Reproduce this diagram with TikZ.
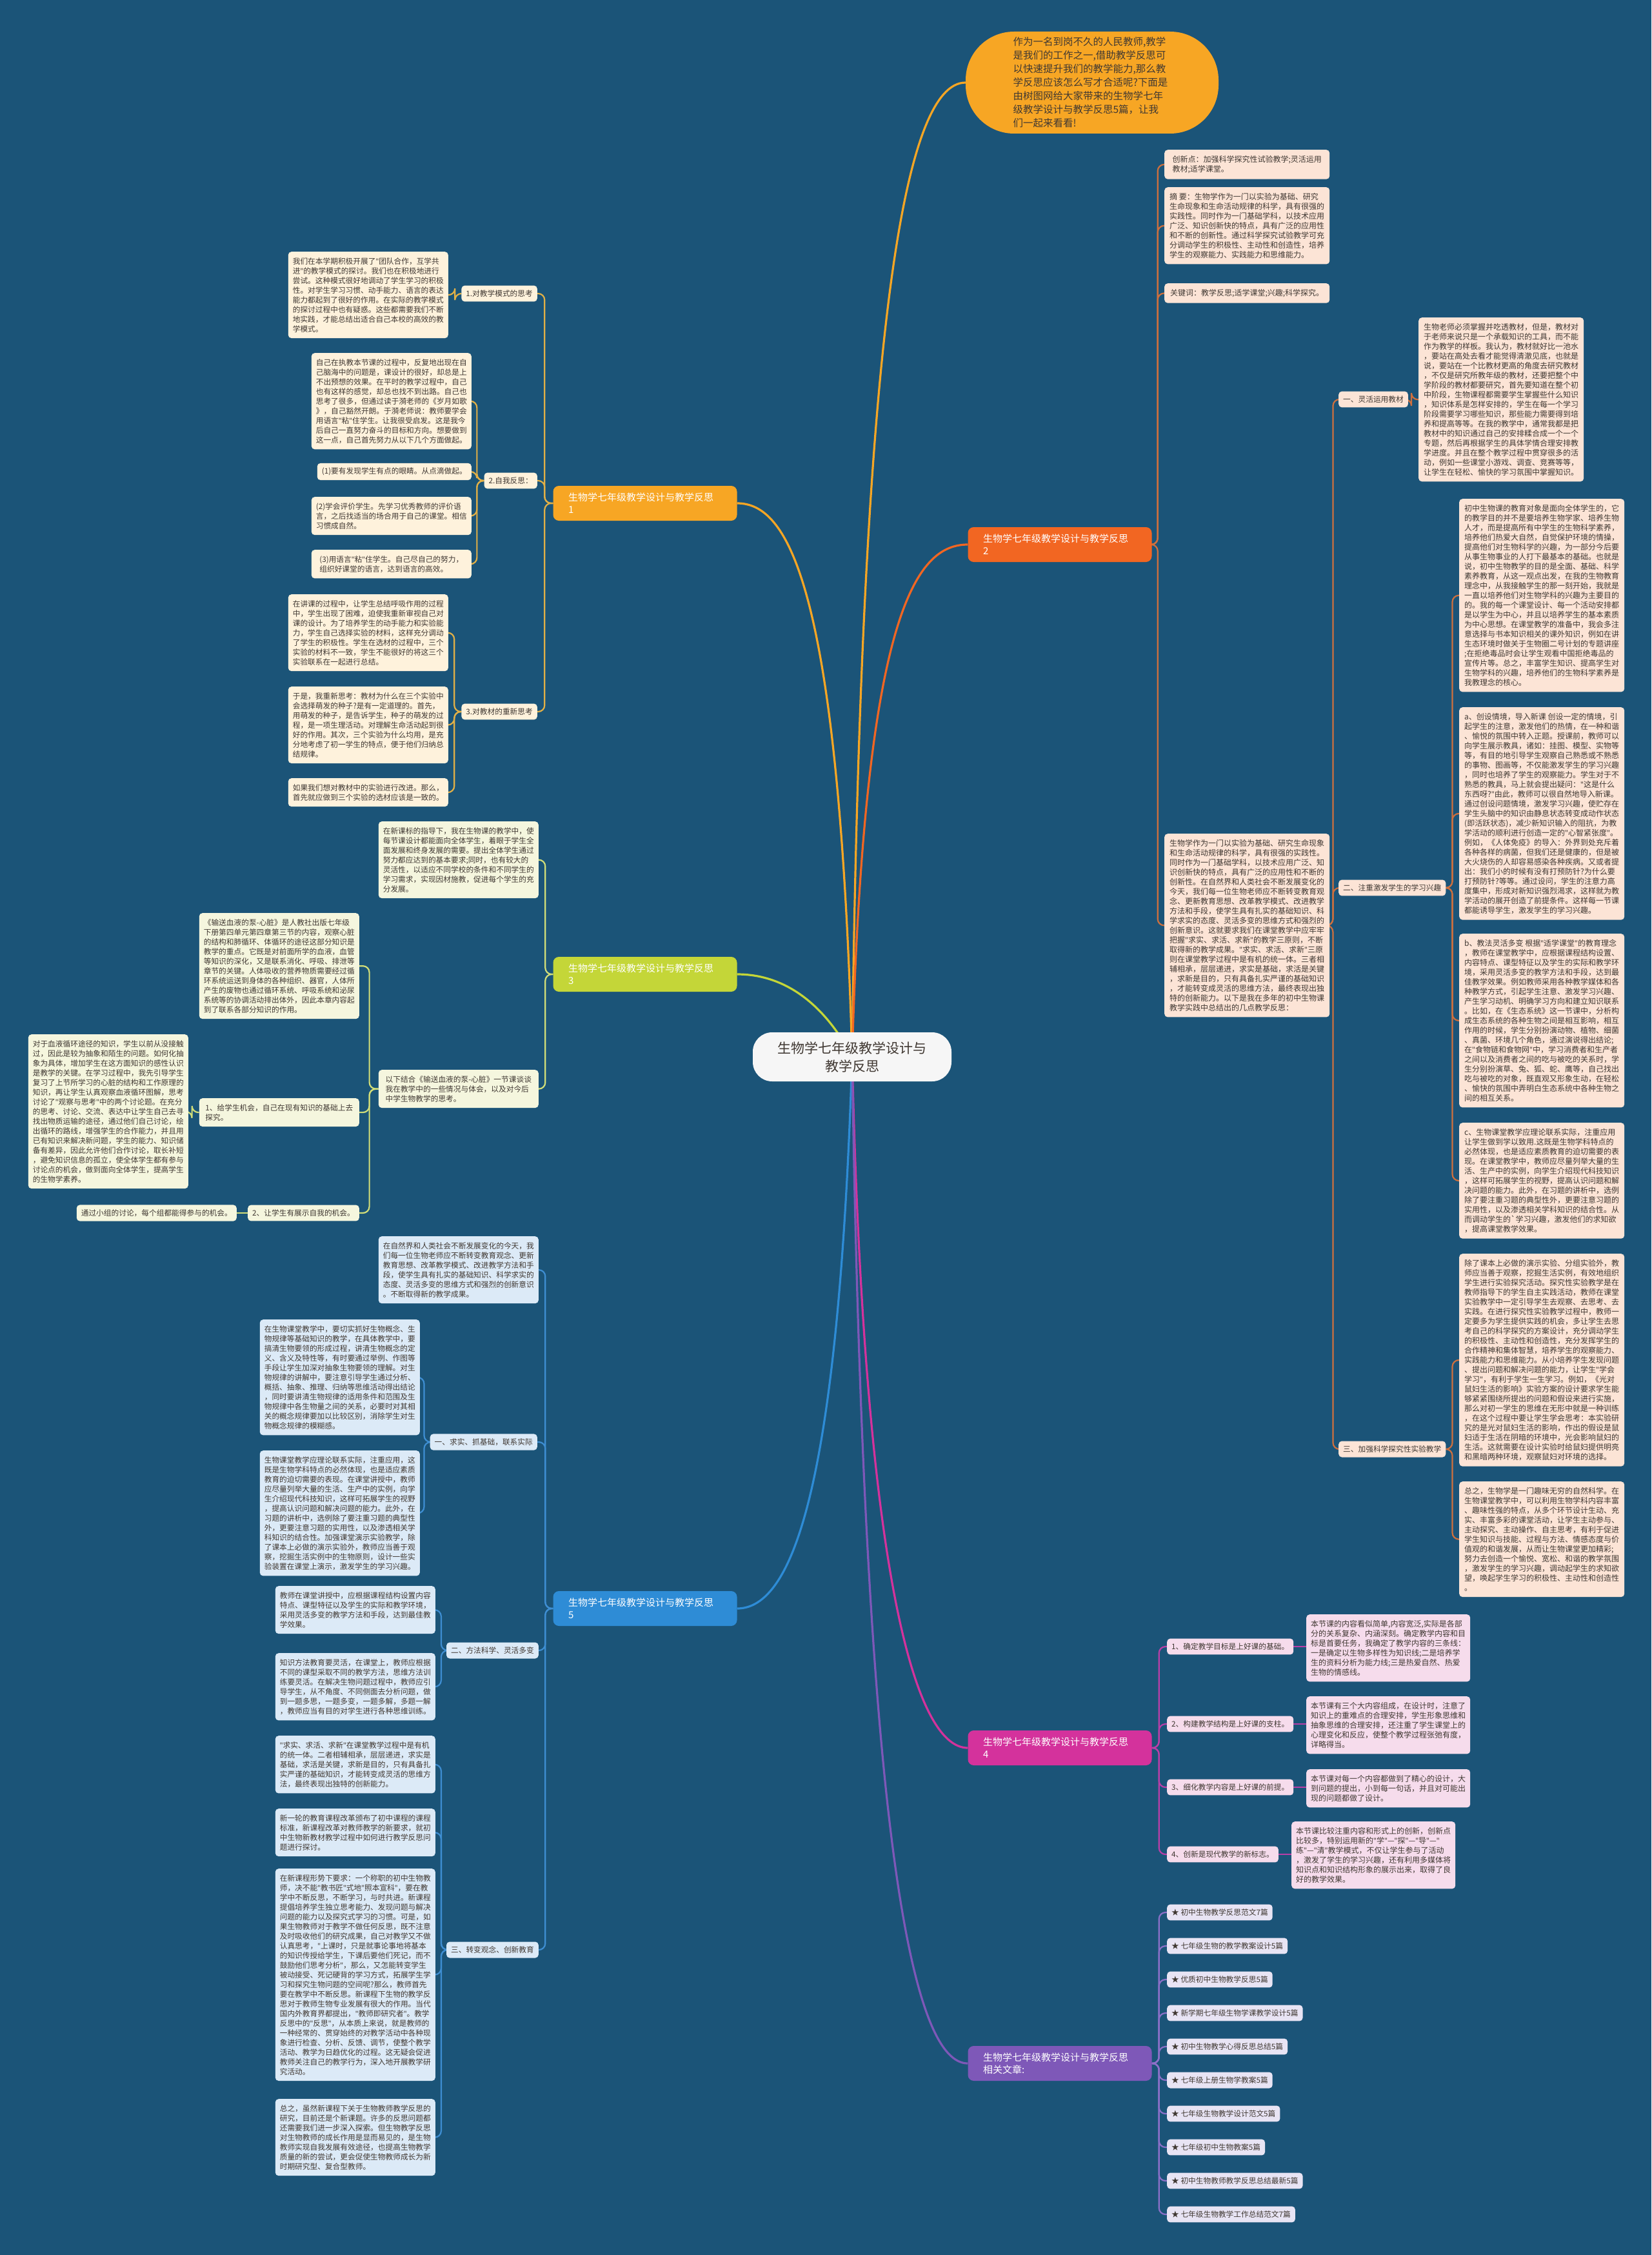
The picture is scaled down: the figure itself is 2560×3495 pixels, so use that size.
\documentclass[tikz,border=0pt]{standalone}
\usepackage{fontspec}
\setmainfont{Noto Sans CJK SC}
\newfontfamily\latinfont{Noto Sans}
\newcommand{\dq}{{\latinfont"}}
\usetikzlibrary{positioning}
\definecolor{bg}{RGB}{27,84,120}
\definecolor{ink}{RGB}{64,56,50}
\definecolor{ctrfill}{RGB}{246,246,246}
\definecolor{orgA}{RGB}{247,166,36}
\definecolor{lnA}{RGB}{226,176,70}
\definecolor{lfA}{RGB}{254,242,220}
\definecolor{orgB}{RGB}{242,102,34}
\definecolor{lnB}{RGB}{206,112,62}
\definecolor{lfB}{RGB}{252,228,214}
\definecolor{grnC}{RGB}{196,214,56}
\definecolor{lnC}{RGB}{210,222,120}
\definecolor{lfC}{RGB}{245,246,222}
\definecolor{magD}{RGB}{212,50,156}
\definecolor{lnD}{RGB}{186,62,168}
\definecolor{lfD}{RGB}{246,220,236}
\definecolor{bluE}{RGB}{46,140,214}
\definecolor{lnE}{RGB}{62,142,210}
\definecolor{lfE}{RGB}{220,234,247}
\definecolor{purF}{RGB}{126,88,184}
\definecolor{lnF}{RGB}{140,112,200}
\definecolor{lfF}{RGB}{232,228,244}
\pgfdeclarelayer{back}
\pgfdeclarelayer{links}
\pgfsetlayers{back,links,main}
\begin{document}
\begin{tikzpicture}[x=1pt,y=-1pt,
  leafL/.style={fill=#1,rounded corners=5pt,align=left,minimum width=248pt,inner xsep=7pt,inner ysep=9pt,font=\fontsize{11.7}{15}\selectfont,text=ink,anchor=north east},
  leafR/.style={fill=#1,rounded corners=5pt,align=left,minimum width=256pt,inner xsep=7pt,inner ysep=9pt,font=\fontsize{12}{15}\selectfont,text=ink,anchor=north west},
  tagL/.style={fill=#1,rounded corners=5pt,inner xsep=7pt,inner ysep=7pt,font=\fontsize{11.7}{15}\selectfont,text=ink,anchor=east},
  tagR/.style={fill=#1,rounded corners=5pt,inner xsep=7pt,inner ysep=7pt,font=\fontsize{11.7}{15}\selectfont,text=ink,anchor=west},
  branch/.style={fill=#1,rounded corners=9pt,text width=238pt,inner xsep=23.5pt,inner ysep=8pt,minimum height=54pt,align=left,font=\fontsize{15}{19}\selectfont,text=white},
  lnk/.style={draw=#1,line width=2.2pt,rounded corners=10pt},
  trunk/.style={draw=#1,line width=3.2pt}]

\useasboundingbox (0,0) rectangle (2560,3495);
\begin{pgfonlayer}{back}
\fill[bg] (0,0) rectangle (2560,3495);
\end{pgfonlayer}

% centre and intro
\node[fill=ctrfill,rounded corners=30pt,minimum width=308pt,minimum height=76pt,align=center,font=\fontsize{21}{28}\selectfont,text=ink] (ctr) at (1321,1638) {生物学七年级教学设计与\\教学反思};
\node[fill=orgA,rounded corners=75pt,minimum width=392pt,minimum height=158pt,text width=245pt,align=left,font=\fontsize{15.5}{21}\selectfont,text=ink] (intro) at (1693,128) {作为一名到岗不久的人民教师,教学\\是我们的工作之一,借助教学反思可\\以快速提升我们的教学能力,那么教\\学反思应该怎么写才合适呢?下面是\\由树图网给大家带来的生物学七年\\级教学设计与教学反思5篇，让我\\们一起来看看!};

% branches
\node[branch=orgA] (b1) at (1000,780) {生物学七年级教学设计与教学反思\\1};
\node[branch=orgB] (b2) at (1643,844) {生物学七年级教学设计与教学反思\\2};
\node[branch=grnC] (b3) at (1000,1510) {生物学七年级教学设计与教学反思\\3};
\node[branch=magD] (b4) at (1643,2709) {生物学七年级教学设计与教学反思\\4};
\node[branch=bluE] (b5) at (1000,2493) {生物学七年级教学设计与教学反思\\5};
\node[branch=purF] (b6) at (1643,3198) {生物学七年级教学设计与教学反思\\相关文章:};

% branch 1
\node[tagL=lfA] (a1) at (833,455) {1.对教学模式的思考};
\node[leafL=lfA] (a1x) at (695,390) {我们在本学期积极开展了\dq{}团队合作，互学共\\进\dq{}的教学模式的探讨。我们也在积极地进行\\尝试。这种模式很好地调动了学生学习的积极\\性。对学生学习习惯、动手能力、语言的表达\\能力都起到了很好的作用。在实际的教学模式\\的探讨过程中也有疑惑。这些都需要我们不断\\地实践，才能总结出适合自己本校的高效的教\\学模式。};
\node[tagL=lfA] (a2) at (833,745) {2.自我反思：};
\node[leafL=lfA] (a2x) at (731,547) {自己在执教本节课的过程中，反复地出现在自\\己脑海中的问题是，课设计的很好，却总是上\\不出预想的效果。在平时的教学过程中，自己\\也有这样的感觉，却总也找不到出路。自己也\\思考了很多，但通过读于漪老师的《岁月如歌\\》，自己豁然开朗。于漪老师说：教师要学会\\用语言\dq{}粘\dq{}住学生。让我很受启发。这是我今\\后自己一直努力奋斗的目标和方向。想要做到\\这一点，自己首先努力从以下几个方面做起。};
\node[tagL=lfA] (a2y) at (731,731) {(1)要有发现学生有点的眼睛。从点滴做起。};
\node[leafL=lfA] (a2z) at (731,770) {(2)学会评价学生。先学习优秀教师的评价语\\言，之后找适当的场合用于自己的课堂。相信\\习惯成自然。};
\node[leafL=lfA] (a2w) at (731,852) {(3)用语言\dq{}粘\dq{}住学生。自己尽自己的努力，\\组织好课堂的语言，达到语言的高效。};
\node[tagL=lfA] (a3) at (833,1103) {3.对教材的重新思考};
\node[leafL=lfA] (a3x) at (695,921) {在讲课的过程中，让学生总结呼吸作用的过程\\中，学生出现了困难，迫使我重新审视自己对\\课的设计。为了培养学生的动手能力和实验能\\力，学生自己选择实验的材料，这样充分调动\\了学生的积极性。学生在选材的过程中，三个\\实验的材料不一致，学生不能很好的将这三个\\实验联系在一起进行总结。};
\node[leafL=lfA] (a3y) at (695,1064) {于是，我重新思考：教材为什么在三个实验中\\会选择萌发的种子?是有一定道理的。首先，\\用萌发的种子，是告诉学生，种子的萌发的过\\程，是一项生理活动。对理解生命活动起到很\\好的作用。其次，三个实验为什么均用，是充\\分地考虑了初一学生的特点，便于他们归纳总\\结规律。};
\node[leafL=lfA] (a3z) at (695,1206) {如果我们想对教材中的实验进行改进。那么，\\首先就应做到三个实验的选材应该是一致的。};

% branch 3
\node[leafL=lfC] (c1) at (835,1273) {在新课标的指导下，我在生物课的教学中，使\\每节课设计都能面向全体学生，着眼于学生全\\面发展和终身发展的需要。提出全体学生通过\\努力都应达到的基本要求;同时，也有较大的\\灵活性，以适应不同学校的条件和不同学生的\\学习需求，实现因材施教，促进每个学生的充\\分发展。};
\node[leafL=lfC] (c2) at (835,1658) {以下结合《输送血液的泵-心脏》一节课谈谈\\我在教学中的一些情况与体会，以及对今后\\中学生物教学的思考。};
\node[leafL=lfC] (c2a) at (557,1415) {《输送血液的泵-心脏》是人教社出版七年级\\下册第四单元第四章第三节的内容，观察心脏\\的结构和肺循环、体循环的途径这部分知识是\\教学的重点。它既是对前面所学的血液，血管\\等知识的深化，又是联系消化、呼吸、排泄等\\章节的关键。人体吸收的营养物质需要经过循\\环系统运送到身体的各种组织、器官，人体所\\产生的废物也通过循环系统、呼吸系统和泌尿\\系统等的协调活动排出体外，因此本章内容起\\到了联系各部分知识的作用。};
\node[leafL=lfC] (c2b) at (557,1702) {1、给学生机会，自己在现有知识的基础上去\\探究。};
\node[leafL=lfC] (c2bx) at (292,1603) {对于血液循环途径的知识，学生以前从没接触\\过，因此是较为抽象和陌生的问题。如何化抽\\象为具体，增加学生在这方面知识的感性认识\\是教学的关键。在学习过程中，我先引导学生\\复习了上节所学习的心脏的结构和工作原理的\\知识，再让学生认真观察血液循环图解，思考\\讨论了\dq{}观察与思考\dq{}中的两个讨论题。在充分\\的思考、讨论、交流、表达中让学生自己去寻\\找出物质运输的途径，通过他们自己讨论，绘\\出循环的路线，增强学生的合作能力，并且用\\已有知识来解决新问题，学生的能力、知识储\\备有差异，因此允许他们合作讨论，取长补短\\，避免知识信息的孤立，使全体学生都有参与\\讨论点的机会，做到面向全体学生，提高学生\\的生物学素养。};
\node[tagL=lfC] (c2c) at (557,1880) {2、让学生有展示自我的机会。};
\node[tagL=lfC] (c2cx) at (367,1880) {通过小组的讨论，每个组都能得参与的机会。};

% branch 5
\node[leafL=lfE] (e1) at (835,1916) {在自然界和人类社会不断发展变化的今天，我\\们每一位生物老师应不断转变教育观念、更新\\教育思想、改革教学模式、改进教学方法和手\\段，使学生具有扎实的基础知识、科学求实的\\态度、灵活多变的思维方式和强烈的创新意识\\。不断取得新的教学成果。};
\node[tagL=lfE] (e2) at (833,2235) {一、求实、抓基础，联系实际};
\node[leafL=lfE] (e2a) at (651,2045) {在生物课堂教学中，要切实抓好生物概念、生\\物规律等基础知识的教学，在具体教学中，要\\搞清生物要领的形成过程，讲清生物概念的定\\义、含义及特性等，有时要通过举例、作图等\\手段让学生加深对抽象生物要领的理解。对生\\物规律的讲解中，要注意引导学生通过分析、\\概括、抽象、推理、归纳等思维活动得出结论\\，同时要讲清生物规律的适用条件和范围及生\\物规律中各生物量之间的关系，必要时对其相\\关的概念规律要加以比较区别，消除学生对生\\物概念规律的模糊感。};
\node[leafL=lfE] (e2b) at (651,2248) {生物课堂教学应理论联系实际，注重应用，这\\既是生物学科特点的必然体现，也是适应素质\\教育的迫切需要的表现。在课堂讲授中，教师\\应尽量列举大量的生活、生产中的实例，向学\\生介绍现代科技知识，这样可拓展学生的视野\\，提高认识问题和解决问题的能力。此外，在\\习题的讲析中，选例除了要注重习题的典型性\\外，更要注意习题的实用性，以及渗透相关学\\科知识的结合性。加强课堂演示实验教学，除\\了课本上必做的演示实验外，教师应当善于观\\察，挖掘生活实例中的生物原则，设计一些实\\验装置在课堂上演示，激发学生的学习兴趣。};
\node[tagL=lfE] (e3) at (835,2558) {二、方法科学、灵活多变};
\node[leafL=lfE] (e3a) at (675,2458) {教师在课堂讲授中，应根据课程结构设置内容\\特点、课型特征以及学生的实际和教学环境，\\采用灵活多变的教学方法和手段，达到最佳教\\学效果。};
\node[leafL=lfE] (e3b) at (675,2562) {知识方法教育要灵活，在课堂上，教师应根据\\不同的课型采取不同的教学方法，思维方法训\\练要灵活。在解决生物问题过程中，教师应引\\导学生，从不角度、不同侧面去分析问题，做\\到一题多思，一题多变，一题多解，多题一解\\，教师应当有目的对学生进行各种思维训练。};
\node[tagL=lfE] (e4) at (835,3022) {三、转变观念、创新教育};
\node[leafL=lfE] (e4a) at (675,2690) {\dq{}求实、求活、求新\dq{}在课堂教学过程中是有机\\的统一体。二者相辅相承，层层递进，求实是\\基础，求活是关键，求新是目的，只有具备扎\\实严谨的基础知识，才能转变成灵活的思维方\\法，最终表现出独特的创新能力。};
\node[leafL=lfE] (e4b) at (675,2803) {新一轮的教育课程改革颁布了初中课程的课程\\标准，新课程改革对教师教学的新要求，就初\\中生物新教材教学过程中如何进行教学反思问\\题进行探讨。};
\node[leafL=lfE] (e4c) at (675,2896) {在新课程形势下要求：一个称职的初中生物教\\师，决不能\dq{}教书匠\dq{}式地\dq{}照本宣科\dq{}，要在教\\学中不断反思，不断学习，与时共进。新课程\\提倡培养学生独立思考能力、发现问题与解决\\问题的能力以及探究式学习的习惯。可是，如\\果生物教师对于教学不做任何反思，既不注意\\及时吸收他们的研究成果，自己对教学又不做\\认真思考，\dq{}上课时，只是就事论事地将基本\\的知识传授给学生，下课后要他们死记，而不\\鼓励他们思考分析\dq{}，那么，又怎能转变学生\\被动接受、死记硬背的学习方式，拓展学生学\\习和探究生物问题的空间呢?那么，教师首先\\要在教学中不断反思。新课程下生物的教学反\\思对于教师生物专业发展有很大的作用。当代\\国内外教育界都提出，\dq{}教师即研究者\dq{}。教学\\反思中的\dq{}反思\dq{}，从本质上来说，就是教师的\\一种经常的、贯穿始终的对教学活动中各种现\\象进行检查、分析、反馈、调节，使整个教学\\活动、教学为日趋优化的过程。这无疑会促进\\教师关注自己的教学行为，深入地开展教学研\\究活动。};
\node[leafL=lfE] (e4d) at (675,3253) {总之，虽然新课程下关于生物教师教学反思的\\研究，目前还是个新课题。许多的反思问题都\\还需要我们进一步深入探索。但生物教学反思\\对生物教师的成长作用是显而易见的，是生物\\教师实现自我发展有效途径，也提高生物教学\\质量的新的尝试，更会促使生物教师成长为新\\时期研究型、复合型教师。};

% branch 2
\node[leafR=lfB] (k1) at (1805,232) {创新点：加强科学探究性试验教学;灵活运用\\教材;适学课堂。};
\node[leafR=lfB] (k2) at (1805,290) {摘 要：生物学作为一门以实验为基础、研究\\生命现象和生命活动规律的科学，具有很强的\\实践性。同时作为一门基础学科，以技术应用\\广泛、知识创新快的特点，具有广泛的应用性\\和不断的创新性。通过科学探究试验教学可充\\分调动学生的积极性、主动性和创造性，培养\\学生的观察能力、实践能力和思维能力。};
\node[leafR=lfB] (k3) at (1805,439) {关键词：教学反思;适学课堂;兴趣;科学探究。};
\node[leafR=lfB] (k4) at (1805,1292) {生物学作为一门以实验为基础、研究生命现象\\和生命活动规律的科学，具有很强的实践性。\\同时作为一门基础学科，以技术应用广泛、知\\识创新快的特点，具有广泛的应用性和不断的\\创新性。在自然界和人类社会不断发展变化的\\今天，我们每一位生物老师应不断转变教育观\\念、更新教育思想、改革教学模式、改进教学\\方法和手段，使学生具有扎实的基础知识、科\\学求实的态度、灵活多变的思维方式和强烈的\\创新意识。这就要求我们在课堂教学中应牢牢\\把握\dq{}求实、求活、求新\dq{}的教学三原则，不断\\取得新的教学成果。\dq{}求实、求活、求新\dq{}三原\\则在课堂教学过程中是有机的统一体。三者相\\辅相承，层层递进，求实是基础，求活是关键\\，求新是目的，只有具备扎实严谨的基础知识\\，才能转变成灵活的思维方法，最终表现出独\\特的创新能力。以下是我在多年的初中生物课\\教学实践中总结出的几点教学反思：};
\node[tagR=lfB] (k5) at (2075,619) {一、灵活运用教材};
\node[leafR=lfB] (k5a) at (2199,492) {生物老师必须掌握并吃透教材，但是，教材对\\于老师来说只是一个承载知识的工具，而不能\\作为教学的样板。我认为，教材就好比一池水\\，要站在高处去看才能觉得清澈见底，也就是\\说，要站在一个比教材更高的角度去研究教材\\，不仅是研究所教年级的教材，还要把整个中\\学阶段的教材都要研究，首先要知道在整个初\\中阶段，生物课程都需要学生掌握些什么知识\\，知识体系是怎样安排的，学生在每一个学习\\阶段需要学习哪些知识，那些能力需要得到培\\养和提高等等。在我的教学中，通常我都是把\\教材中的知识通过自己的安排糅合成一个一个\\专题，然后再根据学生的具体学情合理安排教\\学进度。并且在整个教学过程中贯穿很多的活\\动，例如一些课堂小游戏、调查、竞赛等等，\\让学生在轻松、愉快的学习氛围中掌握知识。};
\node[tagR=lfB] (k6) at (2075,1376) {二、注重激发学生的学习兴趣};
\node[leafR=lfB] (k6a) at (2262,773) {初中生物课的教育对象是面向全体学生的，它\\的教学目的并不是要培养生物学家、培养生物\\人才，而是提高所有中学生的生物科学素养，\\培养他们热爱大自然，自觉保护环境的情操，\\提高他们对生物科学的兴趣，为一部分今后要\\从事生物事业的人打下最基本的基础。也就是\\说，初中生物教学的目的是全面、基础、科学\\素养教育，从这一观点出发，在我的生物教育\\理念中，从我接触学生的那一刻开始，我就是\\一直以培养他们对生物学科的兴趣为主要目的\\的。我的每一个课堂设计、每一个活动安排都\\是以学生为中心，并且以培养学生的基本素质\\为中心思想。在课堂教学的准备中，我会多注\\意选择与书本知识相关的课外知识，例如在讲\\生态环境时做关于生物圈二号计划的专题讲座\\;在拒绝毒品时会让学生观看中国拒绝毒品的\\宣传片等。总之，丰富学生知识、提高学生对\\生物学科的兴趣，培养他们的生物科学素养是\\我教理念的核心。};
\node[leafR=lfB] (k6b) at (2262,1096) {a、创设情境，导入新课 创设一定的情境，引\\起学生的注意，激发他们的热情，在一种和谐\\、愉悦的氛围中转入正题。授课前，教师可以\\向学生展示教具，诸如：挂图、模型、实物等\\等，有目的地引导学生观察自己熟悉或不熟悉\\的事物、图画等，不仅能激发学生的学习兴趣\\，同时也培养了学生的观察能力。学生对于不\\熟悉的教具，马上就会提出疑问：\dq{}这是什么\\东西呀?\dq{}由此，教师可以很自然地导入新课。\\通过创设问题情境，激发学习兴趣，使贮存在\\学生头脑中的知识由静息状态转变成动作状态\\(即活跃状态)，减少新知识输入的阻抗，为教\\学活动的顺利进行创造一定的\dq{}心智紧张度\dq{}。\\例如，《人体免疫》的导入：外界到处充斥着\\各种各样的病菌，但我们还是健康的，但是被\\大火烧伤的人却容易感染各种疾病。又或者提\\出：我们小的时候有没有打预防针?为什么要\\打预防针?等等。通过设问，学生的注意力高\\度集中，形成对新知识强烈渴求，这样就为教\\学活动的展开创造了前提条件。这样每一节课\\都能诱导学生，激发学生的学习兴趣。};
\node[leafR=lfB] (k6c) at (2262,1447) {b、教法灵活多变 根据\dq{}适学课堂\dq{}的教育理念\\，教师在课堂教学中，应根据课程结构设置、\\内容特点、课型特征以及学生的实际和教学环\\境，采用灵活多变的教学方法和手段，达到最\\佳教学效果。例如教师采用各种教学媒体和各\\种教学方式，引起学生注意、激发学习兴趣、\\产生学习动机、明确学习方向和建立知识联系\\。比如，在《生态系统》这一节课中，分析构\\成生态系统的各种生物之间是相互影响，相互\\作用的时候，学生分别扮演动物、植物、细菌\\、真菌、环境几个角色，通过演说得出结论;\\在\dq{}食物链和食物网\dq{}中，学习消费者和生产者\\之间以及消费者之间的吃与被吃的关系时，学\\生分别扮演草、兔、狐、蛇、鹰等，自己找出\\吃与被吃的对象，既直观又形象生动，在轻松\\、愉快的氛围中弄明白生态系统中各种生物之\\间的相互关系。};
\node[leafR=lfB] (k6d) at (2262,1740) {c、生物课堂教学应理论联系实际，注重应用\\让学生做到学以致用.这既是生物学科特点的\\必然体现，也是适应素质教育的迫切需要的表\\现。在课堂教学中，教师应尽量列举大量的生\\活、生产中的实例，向学生介绍现代科技知识\\，这样可拓展学生的视野，提高认识问题和解\\决问题的能力。此外，在习题的讲析中，选例\\除了要注重习题的典型性外，更要注意习题的\\实用性，以及渗透相关学科知识的结合性。从\\而调动学生的\textasciigrave 学习兴趣，激发他们的求知欲\\，提高课堂教学效果。};
\node[tagR=lfB] (k7) at (2075,2246) {三、加强科学探究性实验教学};
\node[leafR=lfB] (k7a) at (2262,1943) {除了课本上必做的演示实验、分组实验外，教\\师应当善于观察，挖掘生活实例，有效地组织\\学生进行实验探究活动。探究性实验教学是在\\教师指导下的学生自主实践活动，教师在课堂\\实验教学中一定引导学生去观察、去思考、去\\实践。在进行探究性实验教学过程中，教师一\\定要多为学生提供实践的机会，多让学生去思\\考自己的科学探究的方案设计，充分调动学生\\的积极性、主动性和创造性，充分发挥学生的\\合作精神和集体智慧，培养学生的观察能力、\\实践能力和思维能力。从小培养学生发现问题\\、提出问题和解决问题的能力，让学生\dq{}学会\\学习\dq{}，有利于学生一生学习。例如，《光对\\鼠妇生活的影响》实验方案的设计要求学生能\\够紧紧围绕所提出的问题和假设来进行实施，\\那么对初一学生的思维在无形中就是一种训练\\，在这个过程中要让学生学会思考：本实验研\\究的是光对鼠妇生活的影响，作出的假设是鼠\\妇适于生活在阴暗的环境中，光会影响鼠妇的\\生活。这就需要在设计实验时给鼠妇提供明亮\\和黑暗两种环境，观察鼠妇对环境的选择。};
\node[leafR=lfB] (k7b) at (2262,2296) {总之，生物学是一门趣味无穷的自然科学。在\\生物课堂教学中，可以利用生物学科内容丰富\\、趣味性强的特点，从多个环节设计生动、充\\实、丰富多彩的课堂活动，让学生主动参与、\\主动探究、主动操作、自主思考，有利于促进\\学生知识与技能、过程与方法、情感态度与价\\值观的和谐发展，从而让生物课堂更加精彩;\\努力去创造一个愉悦、宽松、和谐的教学氛围\\，激发学生的学习兴趣，调动起学生的求知欲\\望，唤起学生学习的积极性、主动性和创造性\\。};

% branch 4
\node[tagR=lfD] (d1) at (1809,2552) {1、确定教学目标是上好课的基础。};
\node[leafR=lfD,minimum width=247pt] (d1x) at (2025,2502) {本节课的内容看似简单,内容宽泛,实际是各部\\分的关系复杂、内涵深刻。确定教学内容和目\\标是首要任务，我确定了教学内容的三条线：\\一是确定以生物多样性为知识线;二是培养学\\生的资料分析为能力线;三是热爱自然、热爱\\生物的情感线。};
\node[tagR=lfD] (d2) at (1809,2672) {2、构建教学结构是上好课的支柱。};
\node[leafR=lfD,minimum width=247pt] (d2x) at (2025,2629) {本节课有三个大内容组成，在设计时，注意了\\知识上的重难点的合理安排，学生形象思维和\\抽象思维的合理安排，还注重了学生课堂上的\\心理变化和反应，使整个教学过程张弛有度，\\详略得当。};
\node[tagR=lfD] (d3) at (1809,2770) {3、细化教学内容是上好课的前提。};
\node[leafR=lfD,minimum width=247pt] (d3x) at (2025,2742) {本节课对每一个内容都做到了精心的设计，大\\到问题的提出，小到每一句话，并且对可能出\\现的问题都做了设计。};
\node[tagR=lfD] (d4) at (1809,2874) {4、创新是现代教学的新标志。};
\node[leafR=lfD,minimum width=247pt] (d4x) at (2002,2823) {本节课比较注重内容和形式上的创新，创新点\\比较多，特别运用新的\dq{}学\dq{}—\dq{}探\dq{}—\dq{}导\dq{}—\dq{}\\练\dq{}—\dq{}清\dq{}教学模式，不仅让学生参与了活动\\，激发了学生的学习兴趣，还有利用多媒体将\\知识点和知识结构形象的展示出来，取得了良\\好的教学效果。};

% branch 6
\foreach \t [count=\i] in {初中生物教学反思范文7篇,七年级生物的教学教案设计5篇,优质初中生物教学反思5篇,新学期七年级生物学课教学设计5篇,初中生物教学心得反思总结5篇,七年级上册生物学教案5篇,七年级生物教学设计范文5篇,七年级初中生物教案5篇,初中生物教师教学反思总结最新5篇,七年级生物教学工作总结范文7篇}
  \node[tagR=lfF] (f\i) at (1809,{2964+52*(\i-1)}) {★ \t};

\begin{pgfonlayer}{links}
\draw[trunk=orgA] (ctr.center) .. controls (1335,520) and (1400,128) .. (intro.west);
\draw[trunk=orgA] (ctr.center) .. controls (1300,900) and (1220,780) .. (b1.east);
\draw[trunk=orgB] (ctr.center) .. controls (1340,950) and (1420,844) .. (b2.west);
\draw[trunk=grnC] (ctr.center) .. controls (1280,1560) and (1220,1510) .. (b3.east);
\draw[trunk=bluE] (ctr.center) .. controls (1300,2300) and (1230,2493) .. (b5.east);
\draw[trunk=magD] (ctr.center) .. controls (1340,2450) and (1420,2709) .. (b4.west);
\draw[trunk=purF] (ctr.center) .. controls (1340,2900) and (1420,3198) .. (b6.west);

\foreach \c in {a1,a2,a3} \draw[lnk=lnA] (b1.west) -- ++(-13,0) |- (\c.east);
\draw[lnk=lnA] (a1.west) -- ++(-10,0) |- (a1x.east);
\foreach \c in {a2x,a2y,a2z,a2w} \draw[lnk=lnA] (a2.west) -- ++(-11,0) |- (\c.east);
\foreach \c in {a3x,a3y,a3z} \draw[lnk=lnA] (a3.west) -- ++(-11,0) |- (\c.east);

\foreach \c in {c1,c2} \draw[lnk=lnC] (b3.west) -- ++(-12,0) |- (\c.east);
\foreach \c in {c2a,c2b,c2c} \draw[lnk=lnC] (c2.west) -- ++(-14,0) |- (\c.east);
\draw[lnk=lnC] (c2b.west) -- ++(-11,0) |- (c2bx.east);
\draw[lnk=lnC] (c2c.west) -- (c2cx.east);

\foreach \c in {e1,e2,e3,e4} \draw[lnk=lnE] (b5.west) -- ++(-12,0) |- (\c.east);
\foreach \c in {e2a,e2b} \draw[lnk=lnE] (e2.west) -- ++(-9,0) |- (\c.east);
\foreach \c in {e3a,e3b} \draw[lnk=lnE] (e3.west) -- ++(-8,0) |- (\c.east);
\foreach \c in {e4a,e4b,e4c,e4d} \draw[lnk=lnE] (e4.west) -- ++(-8,0) |- (\c.east);

\foreach \c in {k1,k2,k3,k4} \draw[lnk=lnB] (b2.east) -- ++(9,0) |- (\c.west);
\foreach \c in {k5,k6,k7} \draw[lnk=lnB] (k4.east) -- ++(5,0) |- (\c.west);
\draw[lnk=lnB] (k5.east) -- ++(5,0) |- (k5a.west);
\foreach \c in {k6a,k6b,k6c,k6d} \draw[lnk=lnB] (k6.east) -- ++(10,0) |- (\c.west);
\foreach \c in {k7a,k7b} \draw[lnk=lnB] (k7.east) -- ++(10,0) |- (\c.west);

\foreach \c in {d1,d2,d3,d4} \draw[lnk=lnD] (b4.east) -- ++(11,0) |- (\c.west);
\foreach \c in {1,2,3,4} \draw[lnk=lnD] (d\c.east) -- (d\c.east -| d\c x.west);

\foreach \i in {1,...,10} \draw[lnk=lnF] (b6.east) -- ++(11,0) |- (f\i.west);
\end{pgfonlayer}
\end{tikzpicture}
\end{document}
